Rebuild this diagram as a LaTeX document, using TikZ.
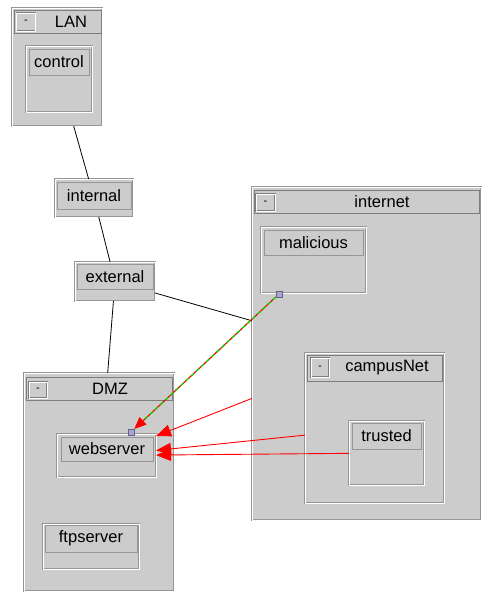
\documentclass[tikz,border=0pt]{standalone}
\usepackage{fontspec}
\setmainfont{Liberation Sans}
\usetikzlibrary{arrows.meta}
\definecolor{panel}{RGB}{204,204,204}
\definecolor{edgegray}{RGB}{150,150,150}
\definecolor{bargray}{RGB}{125,125,125}
\definecolor{portblue}{RGB}{165,165,215}
\definecolor{linkgreen}{RGB}{0,225,0}
\tikzset{
  box/.style={draw=edgegray, line width=0.7pt, double=white, double distance=0.8pt,
    fill=panel, inner sep=0pt, outer sep=0pt},
  hdr/.style={draw=edgegray, line width=0.9pt, fill=panel, inner sep=0pt, outer sep=0pt,
    font=\fontsize{16.5}{19}\selectfont},
  bar/.style={draw=bargray, line width=0.8pt, fill=panel},
  btn/.style={draw=bargray, line width=0.6pt, double=white, double distance=0.6pt,
    fill=panel, inner sep=0pt, font=\fontsize{11}{11}\selectfont},
  ttl/.style={inner sep=0pt, font=\fontsize{16.5}{19}\selectfont},
  link/.style={line width=0.8pt, black},
  flow/.style={line width=0.9pt, red, -{Triangle[length=15pt,width=12pt]}},
  port/.style={draw=portblue!60!black, fill=portblue, minimum size=6pt, inner sep=0pt,
    line width=0.5pt},
}
\begin{document}
\begin{tikzpicture}[x=1pt, y=-1pt]
        \useasboundingbox (0,0) rectangle (482,596);
        \fill[white] (0,0) rectangle (482,596);
        % LAN
        \node[box, minimum width=90, minimum height=118] (lan) at (57,67) {};
        \draw[bar] (14,10) rectangle (101,33);
        \node[btn, minimum width=19, minimum height=18] (lanbtn) at (26,22) {-};
        \node[ttl] (lantxt) at (71,22) {LAN};
        \node[box, minimum width=66, minimum height=66] (control) at (59,79) {};
        \node[hdr, minimum width=60, minimum height=26] (controlhdr) at (59,62) {control};
        % gateways
        \node[box, minimum width=78, minimum height=38] (internal) at (94,198) {};
        \node[hdr, minimum width=74, minimum height=27] (internalhdr) at (94,195.5) {internal};
        \node[box, minimum width=80, minimum height=39] (external) at (115,281.5) {};
        \node[hdr, minimum width=76, minimum height=25] (externalhdr) at (115,277) {external};
        % internet
        \node[box, minimum width=229, minimum height=333] (internet) at (366.5,353.5) {};
        \draw[bar] (254,190) rectangle (479,213);
        \node[btn, minimum width=19, minimum height=17] (internetbtn) at (265.5,202.5) {-};
        \node[ttl] (internettxt) at (382,202) {internet};
        \node[box, minimum width=105, minimum height=66] (malicious) at (313.5,260) {};
        \node[hdr, minimum width=99, minimum height=25] (malicioushdr) at (313.5,242.5) {malicious};
        \node[box, minimum width=139, minimum height=150] (campusnet) at (374.5,428) {};
        \draw[bar] (307,355) rectangle (442,381);
        \node[btn, minimum width=18, minimum height=19] (campusbtn) at (320,367.5) {-};
        \node[ttl] (campustxt) at (387,368) {campusNet};
        \node[box, minimum width=75, minimum height=64] (trusted) at (386.5,453) {};
        \node[hdr, minimum width=69, minimum height=26] (trustedhdr) at (386.5,436) {trusted};
        % DMZ
        \node[box, minimum width=150, minimum height=218] (dmz) at (99,482) {};
        \draw[bar] (26,377) rectangle (172,400);
        \node[btn, minimum width=18, minimum height=16] (dmzbtn) at (38,390) {-};
        \node[ttl] (dmztxt) at (110,389) {DMZ};
        \node[box, minimum width=99, minimum height=43] (webserver) at (106.5,455.5) {};
        \node[hdr, minimum width=92, minimum height=24] (webserverhdr) at (107,449) {webserver};
        \node[box, minimum width=96, minimum height=45] (ftpserver) at (91,546.5) {};
        \node[hdr, minimum width=92, minimum height=27] (ftpserverhdr) at (91,538.5) {ftpserver};
        % links
        \draw[link] (lan) -- (internal);
        \draw[link] (internal) -- (external);
        \draw[link] (external) -- (dmz);
        \draw[link] (external) -- (internet);
        % flows
        \draw[flow] (internet) -- (webserver);
        \draw[flow] (campusnet) -- (webserver);
        \draw[flow] (trusted) -- (webserver);
        % attack path
        \node[port] (malport) at (279,294) {};
        \node[port] (webport) at (131,432) {};
        \draw[line width=1.2pt, red, -{Triangle[length=12pt,width=10pt]}] (malport) -- (webport);
        \draw[line width=1.2pt, linkgreen, dash pattern=on 4pt off 3pt, shorten >=12pt] (malport) -- (webport);
    \end{tikzpicture}
\end{document}
